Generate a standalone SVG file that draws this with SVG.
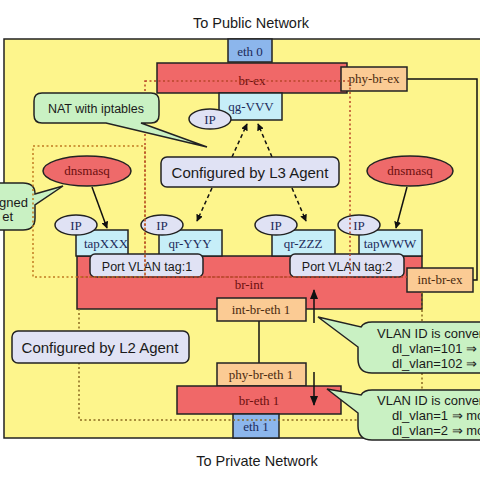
<svg xmlns="http://www.w3.org/2000/svg" width="480" height="480" viewBox="0 0 480 480">
<defs>
<style>
.bg{fill:#fdf58c;stroke:#222;stroke-width:1.5}
.red{fill:#f06868;stroke:#222;stroke-width:1.5}
.org{fill:#fbcb94;stroke:#222;stroke-width:1.5}
.cyan{fill:#c6eef8;stroke:#222;stroke-width:1.5}
.blue{fill:#8cb6ec;stroke:#222;stroke-width:1.5}
.lav{fill:#e0e2f4;stroke:#222;stroke-width:1.5}
.grn{fill:#c9f1c3;stroke:#222;stroke-width:1.5}
.dns{fill:#ee6a6a;stroke:#222;stroke-width:1.5}
.ser{font-family:"Liberation Serif","DejaVu Serif",serif;font-size:13px;text-anchor:middle}
.san{font-family:"Liberation Sans",Arial,sans-serif;fill:#1a1a1a}
.tr{fill:#6b0f0f}
.tb{fill:#1d2b5a}
.to{fill:#4a2a10}
.ln{fill:none;stroke:#111;stroke-width:1.5}
.da{fill:none;stroke:#111;stroke-width:1.5;stroke-dasharray:4,3}
.regA{fill:none;stroke:#c07a20;stroke-width:1.5;stroke-dasharray:2,2.5}
.regB{fill:none;stroke:#b8452a;stroke-width:1.5;stroke-dasharray:2,2.5}
.regC{fill:none;stroke:#8a6a20;stroke-width:1.5;stroke-dasharray:2,2.5}
</style>
<marker id="ah" viewBox="0 0 10 10" refX="9" refY="5" markerWidth="7" markerHeight="7" orient="auto-start-reverse" markerUnits="userSpaceOnUse">
<path d="M0,0 L10,5 L0,10 Z" fill="#111"/>
</marker>
<marker id="ahb" viewBox="0 0 10 10" refX="9" refY="5" markerWidth="10" markerHeight="10" orient="auto" markerUnits="userSpaceOnUse">
<path d="M0,1 L10,5 L0,9 Z" fill="#111"/>
</marker>
</defs>
<rect width="480" height="480" fill="#fff"/>
<text class="san" x="251" y="28" font-size="14.5" text-anchor="middle">To Public Network</text>
<text class="san" x="257" y="466" font-size="14.5" text-anchor="middle">To Private Network</text>
<rect class="bg" x="4" y="39" width="490" height="399"/>

<g id="callout-assigned">
<path class="grn" d="M-20,183 H23 Q35,183 35,194 L63,186 L35,205 V218 Q35,230 23,230 H-20 Z"/>
<text class="san" x="28" y="207" font-size="13" text-anchor="end">gned</text>
<text class="san" x="13" y="221" font-size="13" text-anchor="end">et</text>
</g>

<g id="connectors">
<path class="ln" d="M407,79 H477 V280 H473"/>
<line class="ln" x1="259" y1="321" x2="259" y2="363"/>
<line class="ln" x1="92" y1="187" x2="107" y2="228" marker-end="url(#ah)"/>
<line class="ln" x1="407" y1="187" x2="396" y2="228" marker-end="url(#ah)"/>
<line class="da" x1="232" y1="157" x2="247" y2="124" marker-end="url(#ah)"/>
<line class="da" x1="272" y1="157" x2="258" y2="124" marker-end="url(#ah)"/>
<line class="da" x1="212" y1="188" x2="197" y2="221" marker-end="url(#ah)"/>
<line class="da" x1="292" y1="188" x2="306" y2="221" marker-end="url(#ah)"/>
</g>

<g id="eth0"><rect class="blue" x="228" y="39" width="44" height="23"/><text class="ser tb" x="250" y="56">eth 0</text></g>
<g id="br-ex"><rect class="red" x="157" y="63" width="190" height="30"/><text class="ser tr" x="252" y="85" font-size="14">br-ex</text></g>
<g id="phy-br-ex"><rect class="org" x="341" y="67" width="66" height="24"/><text class="ser to" x="374" y="83">phy-br-ex</text></g>
<g id="qg-VVV"><rect class="cyan" x="219" y="93" width="63" height="27"/><text class="ser tb" x="251" y="111">qg-VVV</text></g>
<g id="ip-qg"><ellipse class="lav" cx="210" cy="119" rx="21" ry="10"/><text class="ser tb" x="210" y="124">IP</text></g>

<g id="dnsmasq-left"><ellipse class="dns" cx="87" cy="171" rx="44" ry="15"/><text class="ser tr" x="87" y="175">dnsmasq</text></g>
<g id="dnsmasq-right"><ellipse class="dns" cx="410" cy="171" rx="43" ry="15"/><text class="ser tr" x="410" y="175">dnsmasq</text></g>

<g id="br-int"><rect class="red" x="77" y="256" width="345" height="53"/><text class="ser tr" x="249" y="289" font-size="14">br-int</text></g>
<g id="tapXXX"><rect class="cyan" x="76" y="230" width="52" height="26"/><text class="ser tb" x="106" y="248">tapXXX</text></g>
<g id="qr-YYY"><rect class="cyan" x="159" y="230" width="63" height="26"/><text class="ser tb" x="190" y="248">qr-YYY</text></g>
<g id="qr-ZZZ"><rect class="cyan" x="272" y="230" width="63" height="26"/><text class="ser tb" x="303" y="248">qr-ZZZ</text></g>
<g id="tapWWW"><rect class="cyan" x="359" y="230" width="63" height="26"/><text class="ser tb" x="390" y="248">tapWWW</text></g>
<g id="ip-1"><ellipse class="lav" cx="76" cy="225" rx="21" ry="10"/><text class="ser tb" x="76" y="230">IP</text></g>
<g id="ip-2"><ellipse class="lav" cx="162" cy="225" rx="21" ry="10"/><text class="ser tb" x="162" y="230">IP</text></g>
<g id="ip-3"><ellipse class="lav" cx="276" cy="225" rx="21" ry="10"/><text class="ser tb" x="276" y="230">IP</text></g>
<g id="ip-4"><ellipse class="lav" cx="359" cy="225" rx="21" ry="10"/><text class="ser tb" x="359" y="230">IP</text></g>
<g id="vlan-tag-1"><rect class="lav" x="90" y="254" width="113" height="23" rx="5"/><text class="san" x="147" y="270.5" font-size="12.5" text-anchor="middle">Port VLAN tag:1</text></g>
<g id="vlan-tag-2"><rect class="lav" x="290" y="254" width="114" height="23" rx="5"/><text class="san" x="347" y="270.5" font-size="12.5" text-anchor="middle">Port VLAN tag:2</text></g>
<g id="int-br-ex"><rect class="org" x="407" y="268" width="66" height="24"/><text class="ser to" x="440" y="284">int-br-ex</text></g>
<g id="int-br-eth1"><rect class="org" x="217" y="298" width="89" height="23"/><text class="ser to" x="261" y="314">int-br-eth 1</text></g>
<g id="phy-br-eth1"><rect class="org" x="217" y="363" width="89" height="23"/><text class="ser to" x="261" y="379">phy-br-eth 1</text></g>
<g id="br-eth1"><rect class="red" x="177" y="386" width="164" height="28"/><text class="ser tr" x="259" y="405" font-size="14">br-eth 1</text></g>
<g id="eth1"><rect class="blue" x="233" y="414" width="46" height="24"/><text class="ser tb" x="256" y="431">eth 1</text></g>

<g id="regions">
<rect class="regA" x="33" y="146" width="112" height="131"/>
<rect class="regB" x="145" y="81" width="205" height="196"/>
<line class="regB" x1="77" y1="277" x2="407" y2="277"/>
<path class="regC" d="M422,292 V420 H79 V309"/>
</g>

<g id="flow-arrows">
<line class="ln" x1="314" y1="323" x2="314" y2="290" marker-end="url(#ahb)"/>
<line class="ln" x1="314" y1="372" x2="314" y2="405" marker-end="url(#ahb)"/>
</g>

<g id="nat-callout">
<path class="grn" d="M42,93 H151 Q159,93 159,101 V115 Q159,123 151,123 H141 L207,147 L106,123 H42 Q34,123 34,115 V101 Q34,93 42,93 Z"/>
<text class="san" x="96" y="113" font-size="12.5" text-anchor="middle">NAT with iptables</text>
</g>
<g id="l3-agent"><rect class="lav" x="161" y="157" width="178" height="30" rx="6"/><text class="san" x="250" y="177.5" font-size="15" text-anchor="middle">Configured by L3 Agent</text></g>
<g id="l2-agent"><rect class="lav" x="12" y="331" width="177" height="32" rx="6"/><text class="san" x="100" y="352.5" font-size="15" text-anchor="middle">Configured by L2 Agent</text></g>

<g id="vlan-callout-1">
<path class="grn" d="M372,322 H490 V373 H372 Q358,373 358,359 V347 L318,317 L361,327 Q364,322 372,322 Z"/>
<text class="san" x="377" y="338" font-size="13">VLAN ID is conver</text>
<text class="san" x="392" y="353" font-size="13">dl_vlan=101 ⇒ m</text>
<text class="san" x="392" y="368" font-size="13">dl_vlan=102 ⇒ m</text>
</g>
<g id="vlan-callout-2">
<path class="grn" d="M372,390 H490 V440 H372 Q358,440 358,426 V413 L327,389 L361,395 Q364,390 372,390 Z"/>
<text class="san" x="377" y="405" font-size="13">VLAN ID is conver</text>
<text class="san" x="392" y="420" font-size="13">dl_vlan=1 ⇒ mo</text>
<text class="san" x="392" y="435" font-size="13">dl_vlan=2 ⇒ mo</text>
</g>
</svg>
